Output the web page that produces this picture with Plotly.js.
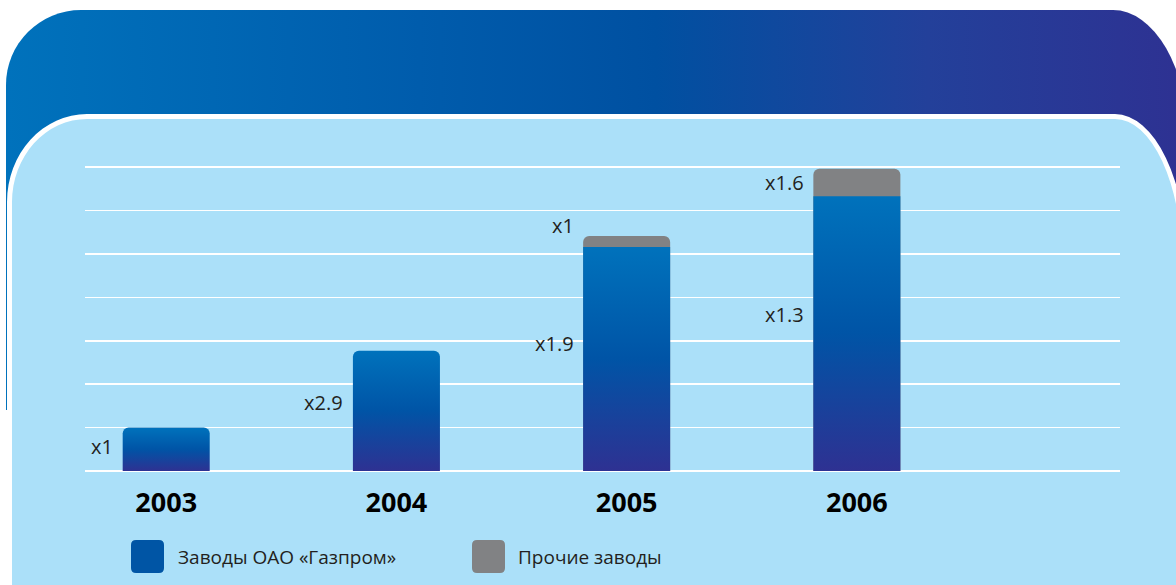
<!DOCTYPE html>
<html>
<head>
<meta charset="utf-8">
<script src="https://cdn.plot.ly/plotly-3.0.1.min.js"></script>
<style>
  html, body { margin:0; padding:0; background:#ffffff; }
  #wrap { position:relative; width:1176px; height:585px; overflow:hidden; background:#ffffff; }
  #dark { position:absolute; left:6px; top:10px; width:1182px; height:400px;
          border-radius:75px 75px 0 0 / 75px 130px 0 0;
          background:linear-gradient(to right, #0072BC 0%, #005CAC 35%, #0050A1 55%, #23409A 78%, #2E3192 100%); }
  #light { position:absolute; left:7px; top:114px; width:1180px; height:520px; box-sizing:border-box;
           background:#ABE0F9; border:5px solid #ffffff;
           border-radius:80px 72px 0 0 / 88px 150px 0 0; }
  #chart { position:absolute; left:0; top:0; width:1176px; height:585px; }
</style>
</head>
<body>
<div id="wrap">
  <div id="dark"></div>
  <div id="light"></div>
  <div id="chart"></div>
</div>
<script>
// ---- data ----
const years = ['2003', '2004', '2005', '2006'];
const gazprom = [1.0, 2.77, 5.16, 6.33];
const others = [0, 0, 0.25, 0.63];
const gazpromLabels = ['x1', 'x2.9', 'x1.9', 'x1.3'];
const othersLabels = [null, null, 'x1', 'x1.6'];
const legendNames = ['Заводы ОАО «Газпром»', 'Прочие заводы'];

// ---- build ----
const total = gazprom.map((v, i) => others[i] > 0 ? v + others[i] : null);
const FONT = 'Open Sans, Noto Sans, DejaVu Sans, sans-serif';
const BW = 0.378;

const traceOthers = {
  type: 'bar', x: years, y: total, name: legendNames[1], width: BW,
  marker: { color: '#818284', cornerradius: 6, line: { width: 0 } },
  hoverinfo: 'skip', showlegend: false
};
const traceGaz = {
  type: 'bar', x: years, y: gazprom, name: legendNames[0], width: BW,
  marker: { color: '#0058A8', cornerradius: 6, line: { width: 0 } },
  hoverinfo: 'skip', showlegend: false
};

const annotations = [];
const othersShift = [0, 0, 11, -14];
years.forEach((yr, i) => {
  annotations.push({
    x: i, y: gazprom[i] * 0.57, xref: 'x', yref: 'y', text: gazpromLabels[i],
    showarrow: false, xanchor: 'right', yanchor: 'middle', xshift: -51,
    font: { family: FONT, size: 20, color: '#231F20' }
  });
  if (othersLabels[i]) {
    annotations.push({
      x: i, y: total[i], xref: 'x', yref: 'y', text: othersLabels[i],
      showarrow: false, xanchor: 'right', yanchor: 'middle', xshift: -51, yshift: othersShift[i],
      font: { family: FONT, size: 20, color: '#231F20' }
    });
  }
});

// legend drawn as shapes + annotations (pixel -> paper helpers)
const ML = 85, MR = 56, MT = 164, MB = 114, W = 1176, H = 585;
const PW = W - ML - MR, PH = H - MT - MB;
const px = x => (x - ML) / PW;
const py = y => (H - MB - y) / PH;
function roundRect(x0, y0, x1, y1, r) {
  return 'M' + px(x0 + r) + ',' + py(y0) +
    ' L' + px(x1 - r) + ',' + py(y0) + ' Q' + px(x1) + ',' + py(y0) + ' ' + px(x1) + ',' + py(y0 + r) +
    ' L' + px(x1) + ',' + py(y1 - r) + ' Q' + px(x1) + ',' + py(y1) + ' ' + px(x1 - r) + ',' + py(y1) +
    ' L' + px(x0 + r) + ',' + py(y1) + ' Q' + px(x0) + ',' + py(y1) + ' ' + px(x0) + ',' + py(y1 - r) +
    ' L' + px(x0) + ',' + py(y0 + r) + ' Q' + px(x0) + ',' + py(y0) + ' ' + px(x0 + r) + ',' + py(y0) + ' Z';
}
const shapes = [
  { type: 'path', xref: 'paper', yref: 'paper', path: roundRect(131, 540, 164, 573, 5),
    fillcolor: '#0055A5', line: { width: 0 } },
  { type: 'path', xref: 'paper', yref: 'paper', path: roundRect(472, 540, 505, 573, 5),
    fillcolor: '#818284', line: { width: 0 } }
];
annotations.push({
  x: px(176), y: py(557), xref: 'paper', yref: 'paper', text: legendNames[0], showarrow: false,
  xanchor: 'left', yanchor: 'middle', font: { family: FONT, size: 19, color: '#231F20' }
});
annotations.push({
  x: px(516), y: py(557), xref: 'paper', yref: 'paper', text: legendNames[1], showarrow: false,
  xanchor: 'left', yanchor: 'middle', font: { family: FONT, size: 19, color: '#231F20' }
});

const layout = {
  width: W, height: H,
  margin: { l: ML, r: MR, t: MT, b: MB, pad: 0 },
  paper_bgcolor: 'rgba(0,0,0,0)', plot_bgcolor: 'rgba(0,0,0,0)',
  barmode: 'overlay', showlegend: false,
  xaxis: {
    type: 'category', range: [-0.3527, 4.143], showgrid: false, zeroline: false, showline: false,
    ticks: 'outside', ticklen: 8, tickcolor: 'rgba(0,0,0,0)',
    tickfont: { family: FONT, size: 27, color: '#000000', weight: 'bold' }
  },
  yaxis: {
    range: [0, 7.07], dtick: 1, tick0: 0, showgrid: true, gridcolor: '#ffffff', gridwidth: 1.6,
    zeroline: true, zerolinecolor: '#ffffff', zerolinewidth: 1.6,
    showticklabels: false, ticks: '', showline: false
  },
  annotations: annotations,
  shapes: shapes
};

Plotly.newPlot('chart', [traceOthers, traceGaz], layout, { staticPlot: true, displayModeBar: false })
  .then(gd => {
    const svg = gd.querySelector('svg.main-svg');
    const ns = 'http://www.w3.org/2000/svg';
    let defs = svg.querySelector('defs');
    if (!defs) { defs = document.createElementNS(ns, 'defs'); svg.insertBefore(defs, svg.firstChild); }
    const lg = document.createElementNS(ns, 'linearGradient');
    lg.setAttribute('id', 'barGrad');
    lg.setAttribute('x1', '0'); lg.setAttribute('y1', '0');
    lg.setAttribute('x2', '0'); lg.setAttribute('y2', '1');
    [['0%', '#0072BC'], ['50%', '#0054A6'], ['100%', '#2E3192']].forEach(s => {
      const st = document.createElementNS(ns, 'stop');
      st.setAttribute('offset', s[0]); st.setAttribute('stop-color', s[1]);
      lg.appendChild(st);
    });
    defs.appendChild(lg);
    const traces = gd.querySelectorAll('.barlayer .trace');
    if (traces.length > 1) {
      traces[1].querySelectorAll('path').forEach(p => { p.style.fill = 'url(#barGrad)'; });
    }
  });
</script>
</body>
</html>
